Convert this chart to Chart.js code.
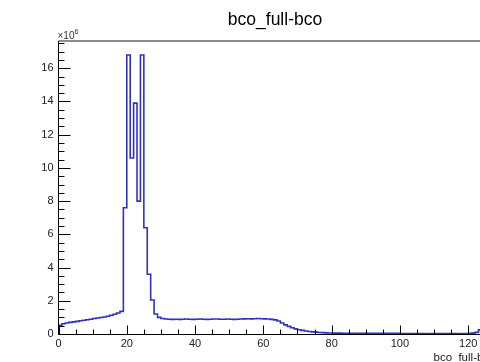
<!DOCTYPE html>
<html><head><meta charset="utf-8">
<script src="https://cdn.jsdelivr.net/npm/chart.js@4/dist/chart.umd.min.js"></script>
<style>
html,body{margin:0;padding:0;overflow:hidden;background:#fff;width:480px;height:362px}
#wrap{position:absolute;left:0;top:0;width:550px;height:362px}
</style>
</head><body><div id="wrap"><canvas id="c" width="550" height="362"></canvas></div>
<script>
// ---- data (histogram, 128 bins of width 1, counts in units of 1e6) ----
const chartTitle = 'bco_full-bco';
const xAxisTitle = 'bco_full-bco';
const yExponent = '6';
const binLow = 0;
const binWidth = 1;
const counts = [
  0.52, 0.62, 0.66, 0.70, 0.73, 0.76, 0.80, 0.83, 0.86, 0.89,
  0.93, 0.96, 0.99, 1.02, 1.07, 1.13, 1.19, 1.26, 1.36, 7.6,
  16.8, 10.6, 13.9, 8.0, 16.8, 6.4, 3.6, 2.05, 1.2, 1.0,
  0.93, 0.90, 0.89, 0.88, 0.89, 0.88, 0.89, 0.90, 0.89, 0.88,
  0.89, 0.90, 0.89, 0.88, 0.89, 0.90, 0.90, 0.89, 0.89, 0.90,
  0.89, 0.88, 0.89, 0.90, 0.91, 0.92, 0.91, 0.92, 0.93, 0.92,
  0.91, 0.90, 0.88, 0.85, 0.78, 0.66, 0.55, 0.46, 0.38, 0.31,
  0.26, 0.22, 0.18, 0.15, 0.13, 0.11, 0.09, 0.08, 0.07, 0.06,
  0.05, 0.05, 0.05, 0.04, 0.04, 0.04, 0.04, 0.04, 0.04, 0.04,
  0.04, 0.04, 0.04, 0.04, 0.04, 0.04, 0.04, 0.04, 0.04, 0.04,
  0.03, 0.03, 0.03, 0.03, 0.03, 0.03, 0.03, 0.03, 0.03, 0.03,
  0.03, 0.03, 0.03, 0.03, 0.03, 0.03, 0.03, 0.03, 0.03, 0.03,
  0.04, 0.05, 0.10, 0.25, 0.45, 0.60, 0.70, 0.75
];
const xTicks = [0, 20, 40, 60, 80, 100, 120];
const yTicks = [0, 2, 4, 6, 8, 10, 12, 14, 16];
const xMinorStep = 5;
const yMinorStep = 0.5;
const xMax = 128;
const yMax = 17.64;

// ---- build points (left bin edges + closing edge) ----
const points = counts.map((v, i) => ({x: binLow + i * binWidth, y: v}));
points.push({x: binLow + counts.length * binWidth, y: counts[counts.length - 1]});

const FONT = "'Liberation Sans', Arial, Helvetica, sans-serif";

const rootDecor = {
  id: 'rootDecor',
  afterDatasetsDraw(chart) {
    const {ctx, chartArea: a, scales: {x, y}} = chart;
    ctx.save();
    ctx.strokeStyle = '#000';
    ctx.lineWidth = 1;
    ctx.beginPath();
    // x ticks (inside, upward)
    for (let v = 0; v <= xMax + 1e-9; v += xMinorStep) {
      const px = Math.round(x.getPixelForValue(v)) + 0.5;
      const major = xTicks.includes(v);
      ctx.moveTo(px, a.bottom);
      ctx.lineTo(px, a.bottom - (major ? 8.5 : 4.5));
    }
    // y ticks (inside, rightward)
    for (let v = 0; v <= yMax + 1e-9; v += yMinorStep) {
      const py = Math.round(y.getPixelForValue(v)) + 0.5;
      const major = yTicks.includes(v);
      ctx.moveTo(a.left, py);
      ctx.lineTo(a.left + (major ? 12 : 6), py);
    }
    ctx.stroke();
    // top & right frame
    ctx.strokeStyle = '#666';
    ctx.lineWidth = 1.5;
    ctx.beginPath();
    ctx.moveTo(a.left, a.top);
    ctx.lineTo(a.right, a.top);
    ctx.lineTo(a.right, a.bottom);
    ctx.stroke();
    // title
    ctx.fillStyle = '#000';
    ctx.textAlign = 'center';
    ctx.textBaseline = 'alphabetic';
    ctx.font = '17.5px ' + FONT;
    ctx.fillText(chartTitle, chart.width / 2, 25);
    // x axis title
    ctx.textAlign = 'right';
    ctx.font = '11.5px ' + FONT;
    ctx.fillStyle = '#222';
    ctx.fillText(xAxisTitle, a.right, 361);
    // exponent label
    ctx.textAlign = 'left';
    ctx.font = '10px ' + FONT;
    ctx.fillStyle = '#333';
    ctx.fillText('\u00d710', a.left - 1, 39);
    const w = ctx.measureText('\u00d710').width;
    ctx.font = '7px ' + FONT;
    ctx.fillText(yExponent, a.left - 1 + w, 34);
    ctx.restore();
  }
};

new Chart(document.getElementById('c'), {
  type: 'line',
  data: {
    datasets: [{
      data: points,
      stepped: 'before',
      borderColor: '#3030c0',
      borderWidth: 1.6,
      pointRadius: 0,
      fill: false,
      tension: 0
    }]
  },
  options: {
    responsive: false,
    animation: false,
    events: [],
    layout: {padding: {top: 41, right: 54.5, left: 0, bottom: 0}},
    plugins: {legend: {display: false}, tooltip: {enabled: false}, title: {display: false}},
    scales: {
      x: {
        type: 'linear', min: 0, max: xMax,
        afterBuildTicks: s => { s.ticks = xTicks.map(v => ({value: v})); },
        afterFit: s => { s.height = 28; },
        grid: {display: false, drawTicks: false},
        border: {display: true, color: '#000', width: 1},
        ticks: {padding: 3, maxRotation: 0, autoSkip: false, color: '#222',
                font: {family: FONT, size: 11}}
      },
      y: {
        type: 'linear', min: 0, max: yMax,
        afterBuildTicks: s => { s.ticks = yTicks.map(v => ({value: v})); },
        afterFit: s => { s.width = 58.5; },
        grid: {display: false, drawTicks: false},
        border: {display: true, color: '#000', width: 1},
        ticks: {padding: 5, color: '#222', font: {family: FONT, size: 11}}
      }
    }
  },
  plugins: [rootDecor]
});
</script>
</body></html>
